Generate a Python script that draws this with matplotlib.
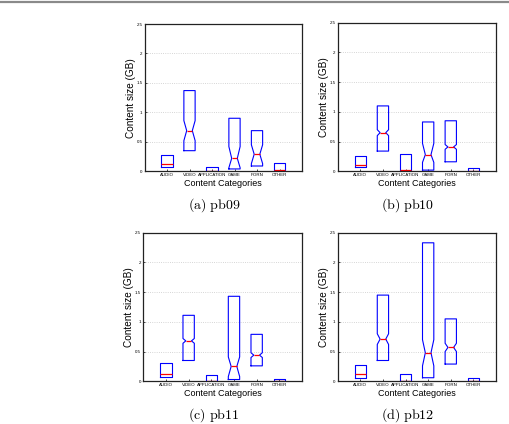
import numpy as np
from matplotlib import pyplot as plt
from matplotlib.lines import Line2D

plt.rcParams['font.family'] = ['Liberation Sans', 'DejaVu Sans']
plt.rcParams['mathtext.fontset'] = 'cm'

categories = ['AUDIO', 'VIDEO', 'APPLICATION', 'GAME', 'PORN', 'OTHER']
y_ticks = [0, 0.5, 1, 1.5, 2, 2.5]
y_tick_labels = ['0', '0.5', '1', '1.5', '2', '2.5']
captions = ['(a)\\ pb09', '(b)\\ pb10', '(c)\\ pb11', '(d)\\ pb12']

# box stats per trace (GB)
pb09_q1 = [0.07, 0.35, 0.00, 0.04, 0.09, 0.01]
pb09_med = [0.12, 0.69, 0.01, 0.22, 0.29, 0.02]
pb09_q3 = [0.27, 1.37, 0.07, 0.90, 0.69, 0.14]
pb09_ci = [None, (0.52, 0.86), None, (0.06, 0.42), (0.13, 0.45), None]

pb10_q1 = [0.07, 0.34, 0.01, 0.02, 0.16, 0.005]
pb10_med = [0.11, 0.65, 0.02, 0.28, 0.41, 0.01]
pb10_q3 = [0.25, 1.10, 0.29, 0.83, 0.85, 0.05]
pb10_ci = [None, (0.60, 0.70), None, (0.15, 0.47), (0.37, 0.45), None]

pb11_q1 = [0.07, 0.35, 0.01, 0.03, 0.26, 0.005]
pb11_med = [0.13, 0.68, 0.01, 0.25, 0.44, 0.01]
pb11_q3 = [0.31, 1.11, 0.11, 1.43, 0.79, 0.04]
pb11_ci = [None, (0.64, 0.72), None, (0.08, 0.41), (0.40, 0.48), None]

pb12_q1 = [0.06, 0.35, 0.01, 0.06, 0.29, 0.005]
pb12_med = [0.13, 0.71, 0.01, 0.48, 0.57, 0.01]
pb12_q3 = [0.27, 1.45, 0.12, 2.33, 1.05, 0.06]
pb12_ci = [None, (0.62, 0.80), None, (0.26, 0.70), (0.50, 0.64), None]

panels = [
    (pb09_q1, pb09_med, pb09_q3, pb09_ci),
    (pb10_q1, pb10_med, pb10_q3, pb10_ci),
    (pb11_q1, pb11_med, pb11_q3, pb11_ci),
    (pb12_q1, pb12_med, pb12_q3, pb12_ci),
]

W, H = 509, 424
fig = plt.figure(figsize=(W / 100, H / 100), dpi=100)

# axes boxes in pixels: left, right, top, bottom
boxes_px = [(144.5, 302, 24, 171.3), (337.7, 496, 22.7, 171.3),
            (143.3, 302, 232.7, 381.3), (337.7, 496, 232.7, 381.3)]

fig.add_artist(Line2D([0, 1], [1 - 1.5 / H] * 2, color='#8a8a8a', lw=1.6))

for k, (q1, med, q3, ci) in enumerate(panels):
    l, r, t, b = boxes_px[k]
    ax = fig.add_axes([l / W, 1 - b / H, (r - l) / W, (b - t) / H])

    notched, plain = [], []
    for i in range(len(categories)):
        st = dict(med=med[i], q1=q1[i], q3=q3[i], whislo=q1[i], whishi=q3[i], fliers=[])
        if ci[i] is not None:
            st['cilo'], st['cihi'] = ci[i]
            notched.append((i + 1, st))
        else:
            plain.append((i + 1, st))

    style = dict(widths=0.5, showcaps=False, showfliers=False, patch_artist=False,
                 boxprops=dict(color='blue', lw=0.8),
                 whiskerprops=dict(color='blue', lw=0.8),
                 medianprops=dict(color='red', lw=0.9), manage_ticks=False)
    for group, nt in ((plain, False), (notched, True)):
        if group:
            ax.bxp([s for _, s in group], positions=[p for p, _ in group], shownotches=nt, **style)

    ax.set_xlim(0, 7)
    ax.set_ylim(0, 2.5)
    ax.set_xticks(range(1, 7))
    ax.set_xticklabels(categories, fontsize=3.2)
    ax.set_yticks(y_ticks)
    ax.set_yticklabels(y_tick_labels, fontsize=3.2)
    ax.tick_params(direction='in', length=1.5, width=0.5, pad=1.5)
    ax.yaxis.grid(True, linestyle=':', color='#c8c8c8', lw=0.6)
    ax.set_axisbelow(True)
    for s in ax.spines.values():
        s.set_linewidth(0.9)
        s.set_color('#222222')

    ax.set_xlabel('Content Categories', fontsize=6.5, labelpad=1)
    ax.set_ylabel('Content size (GB)', fontsize=7.2, labelpad=0.5)

    cx = (l + r) / 2 - 9
    cy = b + 33.5
    fig.text(cx / W, 1 - cy / H, '$\\mathrm{' + captions[k] + '}$', fontsize=10,
             ha='center', va='center')

fig.savefig('out.png', dpi=100)
